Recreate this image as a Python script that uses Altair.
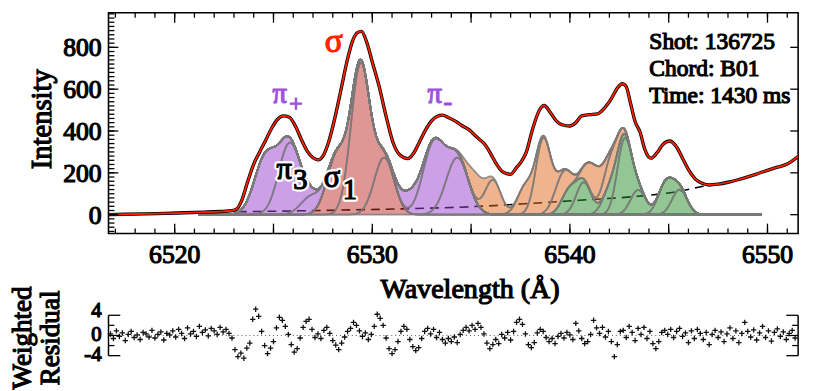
import altair as alt
import numpy as np
import pandas as pd

FONT = "Liberation Serif"   # regular face; bold look made with a thin stroke of the same colour
BOLD = 1.2

# ---------------- data ----------------
spec_wl = [6516.65, 6517.5, 6518.5, 6519.5, 6520.5, 6521.5, 6522.3, 6522.9, 6523.15, 6523.4,
           6523.7, 6524.0, 6524.3, 6524.6, 6524.9, 6525.2, 6525.5, 6525.8, 6526.1, 6526.4,
           6526.7, 6527.0, 6527.25, 6527.5, 6527.8, 6528.1, 6528.4, 6528.7, 6529.0, 6529.25,
           6529.45, 6529.7, 6530.0, 6530.35, 6530.7, 6531.05, 6531.4, 6531.8, 6532.1, 6532.4,
           6532.7, 6533.0, 6533.3, 6533.55, 6533.85, 6534.2, 6534.55, 6534.9, 6535.3, 6535.7,
           6536.0, 6536.3, 6536.6, 6537.0, 6537.3, 6537.55, 6537.8, 6538.1, 6538.45, 6538.7,
           6539.0, 6539.3, 6539.6, 6540.0, 6540.3, 6540.6, 6541.0, 6541.4, 6541.8, 6542.1,
           6542.4, 6542.65, 6542.85, 6543.05, 6543.3, 6543.55, 6543.8, 6544.1, 6544.4, 6544.7,
           6545.05, 6545.35, 6545.7, 6546.0, 6546.35, 6546.7, 6547.05, 6547.5, 6548.0, 6548.5,
           6549.0, 6549.4, 6550.0, 6550.5, 6551.0, 6551.55]
spec_int = [0, 2, 4, 6, 9, 12, 15, 19, 28, 70,
            160, 242, 300, 355, 412, 455, 472, 466, 425, 362,
            305, 272, 262, 280, 350, 460, 590, 725, 830, 870,
            876, 830, 730, 612, 470, 345, 285, 268, 295, 350,
            405, 448, 470, 476, 465, 447, 425, 405, 370, 335,
            290, 240, 205, 193, 225, 255, 300, 405, 498, 522,
            490, 450, 430, 424, 440, 472, 478, 482, 515, 555,
            605, 626, 612, 540, 445, 395, 310, 270, 295, 335,
            352, 330, 270, 215, 170, 150, 142, 146, 155, 167,
            181, 193, 212, 227, 242, 278]

bg_wl = [6523.2, 6526.0, 6529.0, 6532.0, 6535.0, 6537.7, 6540.5, 6543.2, 6544.6, 6545.6, 6546.5, 6547.1]
bg_int = [14, 18, 23, 29, 38, 52, 69, 86, 99, 113, 131, 143]

comp_center = [6524.6, 6525.8, 6526.9, 6531.9, 6533.1, 6534.3,
               6528.2, 6529.4, 6530.6,
               6535.25, 6536.1, 6537.75, 6538.65, 6539.55, 6541.25, 6542.05,
               6539.95, 6540.7, 6542.05, 6542.75, 6543.45, 6544.85, 6545.55]
comp_amp = [273, 335, 85, 85, 330, 273,
            278, 711, 273,
            118, 165, 132, 357, 125, 155, 115,
            110, 155, 120, 343, 118, 146, 120]
comp_sigma = [0.56, 0.54, 0.52, 0.52, 0.54, 0.56,
              0.5, 0.48, 0.5,
              0.4, 0.4, 0.4, 0.38, 0.4, 0.4, 0.4,
              0.38, 0.38, 0.38, 0.36, 0.38, 0.38, 0.38]
comp_group = ["pi"] * 6 + ["sigma"] * 3 + ["C II"] * 7 + ["O II"] * 7
group_names = ["pi", "sigma", "C II", "O II"]
group_colors = ["#9a3fd0", "#c0302c", "#e06a1e", "#2a8c2a"]

resid_start = 6516.75
resid_step = 0.15
resid_val = [
    0.3, -0.6, 0.9, -0.2, 0.5, -1.0, 0.2, 0.8, -0.4, 0.1, -0.8, 0.6, 0.3, -0.3, 1.0, -0.5, 0.2, 0.7, -0.9, 0.4,
    0.1, 0.9, -0.3, 1.2, 0.4, -0.6, 1.5, 0.3, 0.8, -0.2, 1.8, 0.6, 1.1, -0.1, 1.4, 0.9, 0.2, 1.6, 0.7, 1.2,
    0.4, -0.5, -2.8, -4.2, -3.5, -4.5, -2.5, -1.5, 3.2, 5.2, 3.8, 0.8, -2.0, -3.6, -2.5, -1.2, 1.5, 3.6, 3.0, 1.8,
    0.2, -1.8, -3.3, -2.6, -0.5, 1.6, 2.8, 3.2, 1.2, -0.4, 0.3, -0.6, 1.0, 1.6, 0.4, -1.0, -1.9, -2.8, -1.5, -0.3,
    0.8, 1.4, 2.6, 2.0, 0.9, -0.2, 0.5, -0.8, 0.2, 1.8, 4.2, 3.4, 2.0, -0.5, -2.6, -3.6, -2.8, -1.2, 0.8, 1.8,
    1.2, -0.8, -2.2, -3.0, -2.4, -0.6, 0.8, 1.4, 0.3, 1.2, -0.4, 0.6, -0.8, -1.5, -0.6, -1.2, -0.3, -1.4, 0.2, 1.0,
    1.6, 0.9, 2.0, 1.2, 2.4, 1.6, 0.3, -1.5, -2.6, -1.8, -0.8, -1.6, 0.2, -0.5, 0.6, -0.9, 0.8, 2.6, 3.2, 2.2,
    0.3, -1.8, -2.4, -1.4, 0.5, 1.2, 0.8, -0.4, -1.2, -0.6, -1.6, -0.2, 0.4, -0.5, 0.6, 0.1, -0.8, 2.4, 0.9, -0.6,
    -1.6, -1.2, 0.2, 3.0, 1.5, 0.4, 1.6, -0.3, 0.8, -1.2, -4.2, -1.8, 0.8, 1.0, -0.4, 1.8, 0.6, -1.0, 1.4, 0.2,
    1.6, -0.6, 0.8, -1.6, -2.6, -1.2, 0.6, 1.0, 0.2, 1.2, -0.4, 0.8, 1.4, -0.2, 0.5, -1.4, 0.9, -0.6, 1.2, 0.4,
    -0.8, 0.6, -1.8, 0.2, 1.0, -0.4, 0.7, -1.2, 0.3, 1.5, -0.6, 0.9, -1.4, 0.4, 2.6, 0.8, -0.3, 1.1, -0.9, 0.5,
    1.8, -0.4, 0.9, -1.1, 0.6, 1.3, -0.2, 0.7, -0.8, 0.4, 1.0, -0.5,
]

info_lines = ["Shot: 136725", "Chord: B01", "Time: 1430 ms"]
x_title = "Wavelength (Å)"
y_title = "Intensity"
r_title = ["Weighted", "Residual"]

x_labels = [6520, 6530, 6540, 6550]
x_major = [6520, 6525, 6530, 6535, 6540, 6545, 6550]
x_minor = list(range(6517, 6552))
y_labels = [0, 200, 400, 600, 800]
y_minor = list(range(-80, 961, 20))
r_labels = [4, 0, -4]
r_minor = [-2, 2]

# ---------------- tables ----------------
spec_df = pd.DataFrame({"wl": spec_wl, "I": spec_int})
bg_df = pd.DataFrame({"wl": bg_wl, "I": bg_int})
grid = np.round(np.arange(6521.2, 6549.70001, 0.05), 3)
rows = []
for i, (c, a, s, g) in enumerate(zip(comp_center, comp_amp, comp_sigma, comp_group)):
    for w in grid:
        rows.append((i, g, w, a * np.exp(-0.5 * ((w - c) / s) ** 2)))
comp_df = pd.DataFrame(rows, columns=["id", "group", "wl", "I"])
res_df = pd.DataFrame({"wl": [resid_start + resid_step * k for k in range(len(resid_val))],
                       "r": resid_val})
one = pd.DataFrame({"a": [0]})

W, H, RH = 700, 224, 41
xs = alt.Scale(domain=[6516.65, 6551.55], nice=False, zero=False)
ys = alt.Scale(domain=[-90, 965], nice=False, zero=False)
rs = alt.Scale(domain=[-4, 4], nice=False, zero=False)

X = alt.X("wl:Q", scale=xs, axis=None)
Y = alt.Y("I:Q", scale=ys, axis=None)
RX = alt.X("wl:Q", scale=xs, axis=None)
RY = alt.Y("r:Q", scale=rs, axis=None)

tick_style = dict(color="black", strokeWidth=1.3)


def text_style(size, color="black", align="left", **kw):
    return dict(font=FONT, fontSize=size, fill=color, stroke=color, strokeWidth=BOLD,
                align=align, baseline="alphabetic", **kw)


def vticks(vals, y0, y1):
    return alt.Chart(pd.DataFrame({"wl": vals})).mark_rule(**tick_style).encode(
        x=X, y=alt.value(y0), y2=alt.value(y1))


def hticks(vals, x0, x1):
    return alt.Chart(pd.DataFrame({"I": vals})).mark_rule(**tick_style).encode(
        y=Y, x=alt.value(x0), x2=alt.value(x1))


bg = alt.Chart(bg_df).mark_line(color="black", strokeDash=[9, 6], strokeWidth=1.6,
                                interpolate="monotone").encode(x=X, y=Y)
areas = alt.Chart(comp_df).mark_area(fillOpacity=0.5, stroke="#7a7a7a", strokeOpacity=0.8,
                                     strokeWidth=1.8).encode(
    x=X, y=Y,
    color=alt.Color("group:N", scale=alt.Scale(domain=group_names, range=group_colors), legend=None),
    detail="id:N")
data_line = alt.Chart(spec_df).mark_line(color="black", strokeWidth=3.4,
                                         interpolate="monotone").encode(x=X, y=Y)
fit_line = alt.Chart(spec_df).mark_line(color="#ff2200", strokeWidth=1.8,
                                        interpolate="monotone").encode(x=X, y=Y)


def label(txt, wl, inten, size, color, halo=False):
    df = pd.DataFrame({"wl": [wl], "I": [inten], "t": [txt]})
    layers = []
    if halo:
        layers.append(alt.Chart(df).mark_text(
            font=FONT, fontSize=size, fill="white", stroke="white", strokeWidth=5.5,
            strokeJoin="round", align="left", baseline="alphabetic").encode(x=X, y=Y, text="t:N"))
    layers.append(alt.Chart(df).mark_text(**text_style(size, color)).encode(x=X, y=Y, text="t:N"))
    return layers


PURPLE = "#a052dc"
texts = []
texts += label("σ", 6527.6, 777, 34, "#ff2200")
texts += label("π", 6524.95, 532, 29, PURPLE)
texts += label("+", 6525.8, 497, 24, PURPLE)
texts += label("π", 6532.8, 532, 29, PURPLE)
texts += label("-", 6533.6, 500, 26, PURPLE)
texts += label("π", 6525.15, 169, 31, "black", halo=True)
texts += label("3", 6526.0, 122, 29, "black", halo=True)
texts += label("σ", 6527.55, 131, 31, "black", halo=True)
texts += label("1", 6528.5, 75, 29, "black", halo=True)

info = alt.Chart(one).mark_text(text=info_lines, lineHeight=27.5, **text_style(23.8)).encode(
    x=alt.value(549), y=alt.value(37))

# axis labels and titles
xlab = alt.Chart(pd.DataFrame({"wl": x_labels, "t": [str(v) for v in x_labels]})).mark_text(
    **text_style(26, align="center")).encode(x=X, y=alt.value(254), text="t:N")
ylab = alt.Chart(pd.DataFrame({"I": y_labels, "t": [str(v) for v in y_labels]})).mark_text(
    dy=9, **text_style(26, align="right")).encode(y=Y, x=alt.value(-7), text="t:N")
xtitle = alt.Chart(one).mark_text(text=x_title, **text_style(28.5, align="center")).encode(
    x=alt.value(367), y=alt.value(289))
ytitle = alt.Chart(one).mark_text(text=y_title, angle=270, **text_style(29, align="center")).encode(
    x=alt.value(-58), y=alt.value(108))

ticks = [
    vticks(x_major, H, H - 10), vticks(x_minor, H, H - 5),
    vticks(x_major, 0, 10), vticks(x_minor, 0, 5),
    hticks(y_labels, 0, 10), hticks(y_minor, 0, 6),
    hticks(y_labels, W, W - 8),
]

main = alt.layer(bg, areas, data_line, fit_line, *texts, info, *ticks,
                 xlab, ylab, xtitle, ytitle).properties(
    width=W, height=H, view=alt.ViewBackground(stroke="black", strokeWidth=1.6))

# ---------------- residual panel ----------------
zero = alt.Chart(pd.DataFrame({"r": [0]})).mark_rule(color="#555555", strokeDash=[1, 3],
                                                      strokeWidth=1).encode(y=RY)
pts = alt.Chart(res_df).mark_point(shape="M-1,0L1,0M0,-1L0,1", size=30, filled=False,
                                   color="#111111", strokeWidth=1.3, opacity=1).encode(x=RX, y=RY)


def rticks(vals, x0, x1):
    return alt.Chart(pd.DataFrame({"r": vals})).mark_rule(**tick_style).encode(
        y=RY, x=alt.value(x0), x2=alt.value(x1))


side_lines = alt.Chart(pd.DataFrame({"x": [0, W]})).mark_rule(color="black", strokeWidth=1.5).encode(
    x=alt.X("x:Q", scale=None), y=alt.value(0), y2=alt.value(RH))

rlabel_shift = [2.0, 5.5, 5.5]   # baseline offsets of the three labels (px)
rlabs = [alt.Chart(pd.DataFrame({"r": [v], "t": [str(v)]})).mark_text(
            dy=d, **text_style(21, align="right")).encode(y=RY, x=alt.value(-7), text="t:N")
         for v, d in zip(r_labels, rlabel_shift)]
rtitle = alt.Chart(one).mark_text(text=r_title, angle=270, lineHeight=29,
                                  **text_style(27.5, align="center")).encode(
    x=alt.value(-79), y=alt.value(23))

resid = alt.layer(zero, pts, rticks(r_labels, 0, 12), rticks(r_minor, 0, 6),
                  rticks(r_labels, W, W - 12), rticks(r_minor, W, W - 6), side_lines,
                  *rlabs, rtitle).properties(
    width=W, height=RH, view=alt.ViewBackground(stroke="transparent"))

chart = alt.vconcat(main, resid, spacing=83, bounds="flush").properties(padding=0)

chart.save("out.html", embed_options={"renderer": "svg", "actions": False})
